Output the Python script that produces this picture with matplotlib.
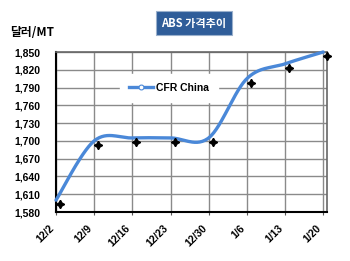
import numpy as np
import matplotlib
matplotlib.use("Agg")
import matplotlib.pyplot as plt
from matplotlib.transforms import ScaledTranslation
from matplotlib.lines import Line2D

categories = ["12/2", "12/9", "12/16", "12/23", "12/30", "1/6", "1/13", "1/20"]
prices = [1600, 1700, 1705, 1705, 1705, 1805, 1830, 1850]
yticks = [1580, 1610, 1640, 1670, 1700, 1730, 1760, 1790, 1820, 1850]
series_name = "CFR China"
title = "ABS 가격추이"
ylabel = "달러/MT"

def catmull_rom(x, y, n=30):
    x = np.asarray(x, float); y = np.asarray(y, float)
    px = np.concatenate([[x[0]], x, [x[-1]]])
    py = np.concatenate([[y[0]], y, [y[-1]]])
    xs, ys = [], []
    for i in range(1, len(px) - 2):
        t = np.linspace(0, 1, n, endpoint=(i == len(px) - 3))
        for arr, out in ((px, xs), (py, ys)):
            p0, p1, p2, p3 = arr[i-1], arr[i], arr[i+1], arr[i+2]
            out.append(0.5 * ((2*p1) + (-p0 + p2)*t + (2*p0 - 5*p1 + 4*p2 - p3)*t**2
                              + (-p0 + 3*p1 - 3*p2 + p3)*t**3))
    return np.concatenate(xs), np.concatenate(ys)

plt.rcParams['font.family'] = ['Liberation Sans', 'DejaVu Sans']
fig = plt.figure(figsize=(3.5, 2.61), dpi=100)
W, H = 350, 261
ax = fig.add_axes([56/W, 1-212/H, (327-56)/W, (212-52)/H])

x = np.arange(len(categories))
sx, sy = catmull_rom(x, prices)
ax.plot(sx, sy, color='#4a88d8', lw=2.4, solid_capstyle='round', zorder=3, clip_on=False)
off = ScaledTranslation(4/100, -4/100, fig.dpi_scale_trans)
ax.plot(x, prices, linestyle='none', marker=(4, 1, 0), markersize=6, color='black',
        transform=ax.transData + off, zorder=4, clip_on=False)

ax.set_xlim(0, 7.1)
ax.set_ylim(1580, 1850)
ax.set_yticks(yticks)
ax.set_yticklabels([f"{v:,}" for v in yticks], fontsize=7.5, fontweight='bold')
ax.set_xticks(x)
ax.set_xticklabels(categories, rotation=45, ha='right', fontsize=7.5, fontweight='bold')
lbl_off = ScaledTranslation(4/100, 0, fig.dpi_scale_trans)
for lab in ax.get_xticklabels():
    lab.set_transform(lab.get_transform() + lbl_off)
ax.tick_params(axis='y', length=0, pad=11)
ax.tick_params(axis='x', length=2, pad=6, direction='out', color='#555555')
ax.grid(True, color='#8a8a8a', lw=1)
ax.set_axisbelow(True)
for s in ['top', 'right']:
    ax.spines[s].set_color('#666666')
    ax.spines[s].set_linewidth(1.2)
for s in ['left', 'bottom']:
    ax.spines[s].set_color('black')
    ax.spines[s].set_linewidth(1.5)

h = Line2D([], [], color='#4a88d8', lw=2.4, marker='o', markersize=3.5,
           markerfacecolor='white', markeredgecolor='#4a88d8', markeredgewidth=0.8)
leg = ax.legend([h], [series_name], loc='center', bbox_to_anchor=((169-56)/271, (212-88)/160),
                frameon=True, fancybox=False, edgecolor='white', framealpha=1,
                prop={'weight': 'bold', 'size': 7.5}, handlelength=2.3, handletextpad=0.3,
                borderpad=0.9, borderaxespad=0)

fig.text(194/W, 1-23/H, title, ha='center', va='center', color='white', fontsize=8,
         fontweight='bold', family=['Noto Sans CJK KR', 'DejaVu Sans'],
         bbox=dict(boxstyle='square,pad=0.5', facecolor='#2f5d99', edgecolor='#9ab0cc', lw=0.8))
fig.text(10/W, 1-33/H, ylabel, ha='left', va='center', fontsize=8.5, fontweight='bold',
         family=['Noto Sans CJK KR', 'DejaVu Sans'])

fig.savefig('out.png', dpi=100)
